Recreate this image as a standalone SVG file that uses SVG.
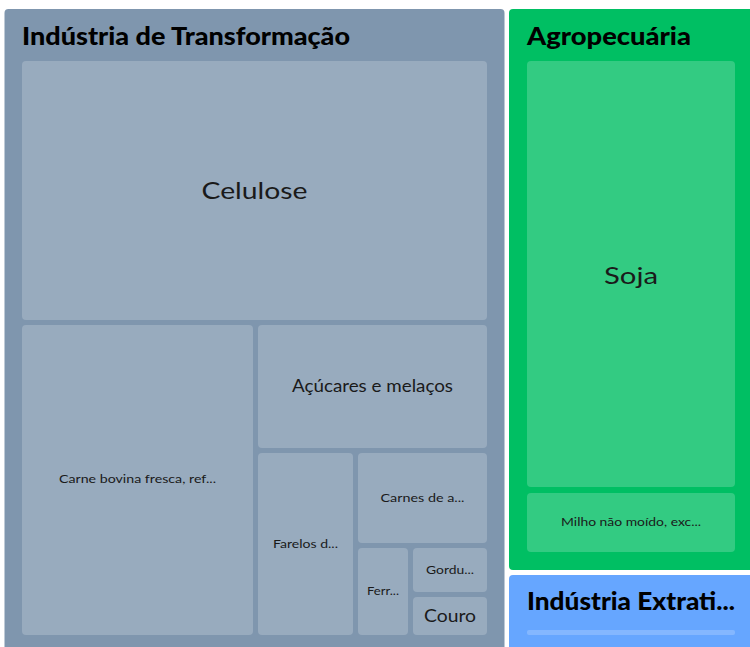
<svg xmlns="http://www.w3.org/2000/svg" width="750" height="647" viewBox="0 0 750 647">
<style>
.bg{fill:#ffffff}
.p-ind{fill:#7f96ae}
.p-agro{fill:#00bf63}
.p-ext{fill:#66a6ff}
.leaf{fill:#ffffff;fill-opacity:0.2}
.title{font-family:"Lato","Noto Sans",sans-serif;font-weight:900;font-size:24px;fill:#000}
.lbl{font-family:"Lato","Noto Sans",sans-serif;fill:#1a1a1a;text-anchor:middle}
</style>
<rect class="bg" x="0" y="0" width="750" height="647"/>
<g id="industria-transformacao">
  <rect class="p-ind" x="4.5" y="9" width="500" height="650" rx="4"/>
  <text class="title" x="22" y="45" textLength="328" lengthAdjust="spacingAndGlyphs">Indústria de Transformação</text>
</g>
<g id="celulose">
  <rect class="leaf" x="22" y="61" width="465" height="259" rx="4"/>
  <text class="lbl" x="254.5" y="199" font-size="24" textLength="106" lengthAdjust="spacingAndGlyphs">Celulose</text>
</g>
<g id="carne-bovina">
  <rect class="leaf" x="22" y="325" width="231" height="310" rx="4"/>
  <text class="lbl" x="137.5" y="483" font-size="12" textLength="157" lengthAdjust="spacingAndGlyphs">Carne bovina fresca, ref...</text>
</g>
<g id="acucares">
  <rect class="leaf" x="258" y="325" width="229" height="123" rx="4"/>
  <text class="lbl" x="372.5" y="392" font-size="17" textLength="161" lengthAdjust="spacingAndGlyphs">Açúcares e melaços</text>
</g>
<g id="farelos">
  <rect class="leaf" x="258" y="453" width="95" height="182" rx="4"/>
  <text class="lbl" x="305.5" y="548" font-size="12" textLength="65" lengthAdjust="spacingAndGlyphs">Farelos d...</text>
</g>
<g id="carnes-de-a">
  <rect class="leaf" x="358" y="453" width="129" height="90" rx="4"/>
  <text class="lbl" x="422.5" y="502" font-size="12" textLength="84" lengthAdjust="spacingAndGlyphs">Carnes de a...</text>
</g>
<g id="ferr">
  <rect class="leaf" x="358" y="548" width="50" height="87" rx="4"/>
  <text class="lbl" x="383" y="595" font-size="12" textLength="32" lengthAdjust="spacingAndGlyphs">Ferr...</text>
</g>
<g id="gordu">
  <rect class="leaf" x="413" y="548" width="74" height="44" rx="4"/>
  <text class="lbl" x="450" y="574" font-size="12" textLength="48" lengthAdjust="spacingAndGlyphs">Gordu...</text>
</g>
<g id="couro">
  <rect class="leaf" x="413" y="597" width="74" height="38" rx="4"/>
  <text class="lbl" x="450" y="622" font-size="17" textLength="52" lengthAdjust="spacingAndGlyphs">Couro</text>
</g>
<g id="agropecuaria">
  <rect class="p-agro" x="509" y="9" width="250" height="561" rx="4"/>
  <text class="title" x="527" y="45" textLength="164" lengthAdjust="spacingAndGlyphs">Agropecuária</text>
</g>
<g id="soja">
  <rect class="leaf" x="527" y="61" width="208" height="426" rx="4"/>
  <text class="lbl" x="631" y="284" font-size="24" textLength="54" lengthAdjust="spacingAndGlyphs">Soja</text>
</g>
<g id="milho">
  <rect class="leaf" x="527" y="493" width="208" height="59" rx="4"/>
  <text class="lbl" x="631" y="526" font-size="12" textLength="140" lengthAdjust="spacingAndGlyphs">Milho não moído, exc...</text>
</g>
<g id="industria-extrativa">
  <rect class="p-ext" x="509" y="575" width="250" height="90" rx="4"/>
  <text class="title" x="527" y="610" textLength="208" lengthAdjust="spacingAndGlyphs">Indústria Extrati...</text>
  <rect class="leaf" x="527" y="630" width="208" height="5" rx="2"/>
</g>
<g id="connectors"/>
</svg>
